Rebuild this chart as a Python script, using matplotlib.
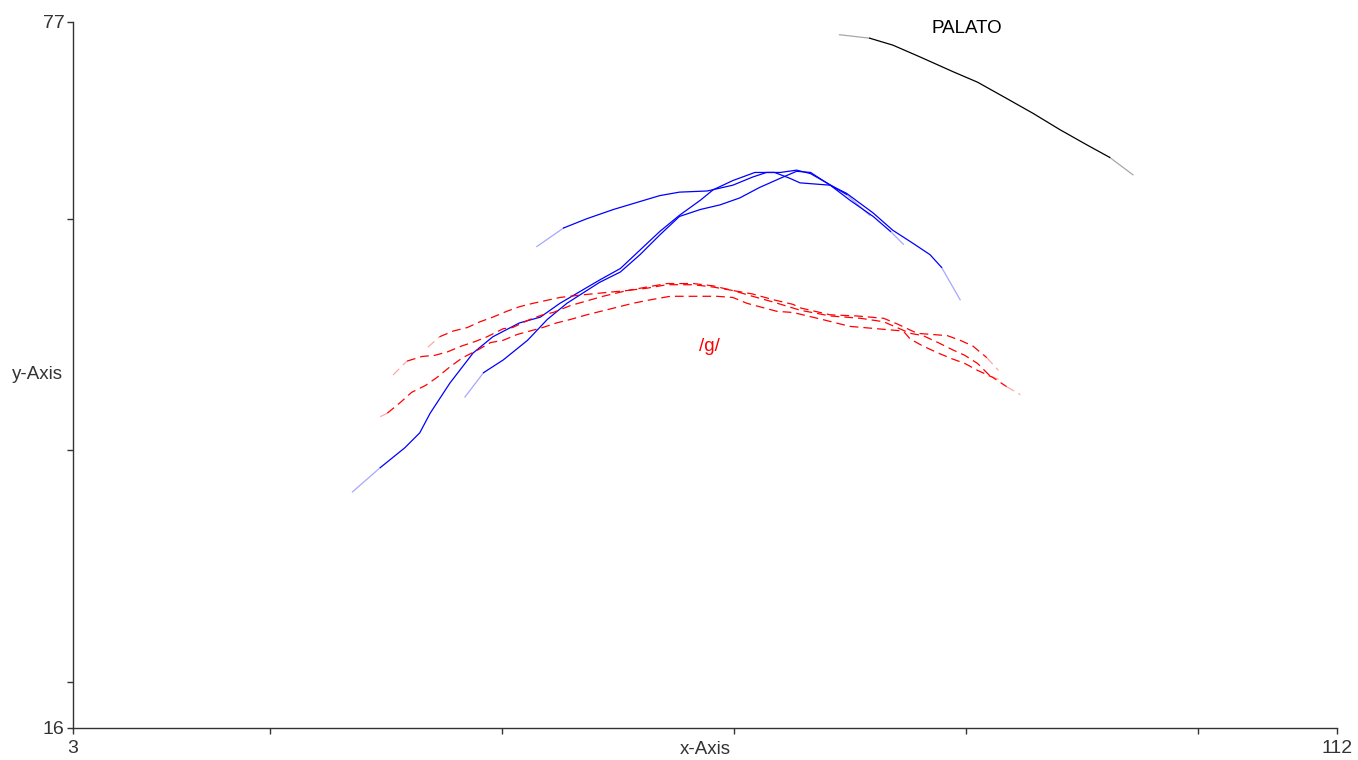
import numpy as np
import matplotlib
matplotlib.use("Agg")
from matplotlib import pyplot as plt

plt.rcParams['font.family'] = ['Liberation Sans', 'DejaVu Sans']

## DATA ##
# blue curves (solid)
blue_a_x = [27.1, 29.5, 31.6, 32.9, 33.8, 35.5, 37.5, 39.2, 41.5, 43.3, 45.0, 46.7, 48.4, 50.2, 51.9, 53.6,
            55.3, 57.1, 58.2, 59.9, 61.8, 63.5, 64.8, 65.7, 68.3, 69.7, 72.0, 73.7, 75.4, 76.9, 77.9, 79.5]
blue_a_y = [36.4, 38.5, 40.2, 41.5, 43.2, 45.8, 48.4, 49.8, 51.0, 51.5, 52.7, 53.7, 54.7, 55.7, 57.3, 58.9,
            60.3, 61.6, 62.5, 63.3, 64.0, 64.0, 63.5, 63.1, 62.9, 62.2, 60.5, 59.0, 57.9, 56.9, 55.8, 53.0]

blue_b_x = [36.8, 38.4, 40.1, 42.2, 43.9, 45.6, 48.4, 50.2, 51.9, 53.6, 55.3, 57.1, 58.8, 60.5, 62.2, 64.0,
            65.4, 66.6, 68.3, 70.0, 72.0, 73.5, 74.6]
blue_b_y = [44.6, 46.7, 47.8, 49.5, 51.3, 52.7, 54.5, 55.4, 56.9, 58.6, 60.2, 60.8, 61.2, 61.8, 62.7, 63.5,
            64.1, 64.0, 62.9, 61.6, 60.2, 58.9, 57.8]

blue_c_x = [43.0, 45.3, 47.3, 49.6, 51.6, 53.6, 55.3, 57.7, 59.9, 61.6, 62.8, 64.0, 65.4, 66.6, 68.0, 69.7, 71.7]
blue_c_y = [57.6, 59.2, 60.0, 60.8, 61.4, 62.0, 62.3, 62.4, 62.9, 63.6, 64.0, 64.0, 64.2, 63.9, 63.1, 62.1, 60.3]

# red curves (dashed)
red_1_x = [33.6, 34.6, 35.8, 37.0, 38.1, 39.2, 40.4, 41.5, 42.7, 45.0, 46.7, 48.7, 50.8, 52.5, 54.2, 56.5,
           58.2, 59.9, 61.6, 63.4, 65.1, 65.7, 68.3, 70.6, 72.9, 74.1, 75.8, 78.4, 79.5, 80.6, 81.8, 82.8]
red_1_y = [48.9, 49.8, 50.3, 50.6, 51.1, 51.5, 52.0, 52.4, 52.7, 53.2, 53.4, 53.6, 53.8, 54.1, 54.4, 54.4,
           54.2, 53.8, 53.5, 53.0, 52.6, 52.3, 51.7, 51.6, 51.4, 50.9, 50.1, 49.9, 49.5, 49.0, 48.0, 46.9]

red_2_x = [30.6, 31.8, 33.1, 34.2, 35.3, 36.5, 37.7, 38.7, 40.1, 40.9, 42.4, 43.5, 44.4, 45.9, 47.3, 48.7,
           50.8, 52.5, 54.2, 56.5, 58.2, 59.9, 61.6, 63.4, 65.7, 68.3, 70.9, 72.9, 75.2, 76.3, 77.6, 78.8,
           79.9, 81.0, 82.1, 82.9]
red_2_y = [46.5, 47.7, 48.1, 48.2, 48.5, 49.0, 49.4, 49.8, 50.5, 50.6, 51.3, 51.7, 51.9, 52.5, 52.9, 53.3,
           53.8, 54.0, 54.3, 54.3, 54.1, 53.8, 53.3, 52.8, 52.1, 51.6, 51.4, 51.1, 50.1, 49.9, 49.3, 48.7,
           48.2, 47.5, 46.4, 46.1]

red_3_x = [29.5, 30.1, 31.2, 32.2, 33.4, 34.4, 35.5, 36.6, 37.8, 39.0, 40.1, 41.3, 42.4, 43.5, 44.7, 45.9,
           47.3, 49.3, 51.3, 52.8, 54.5, 56.5, 58.5, 59.9, 61.1, 62.2, 63.7, 65.1, 67.6, 70.0, 72.3, 74.6,
           75.2, 76.3, 77.6, 78.8, 79.9, 81.0, 82.3, 83.5, 84.7]
red_3_y = [42.9, 43.2, 44.1, 45.0, 45.6, 46.3, 47.2, 48.0, 48.6, 49.3, 49.5, 50.0, 50.3, 50.6, 51.0, 51.3,
           51.7, 52.2, 52.7, 53.0, 53.3, 53.3, 53.3, 53.2, 52.7, 52.4, 52.0, 51.9, 51.3, 50.7, 50.5, 50.3,
           49.6, 49.0, 48.4, 47.9, 47.5, 46.9, 46.3, 45.5, 44.8]

# black curve (PALATO)
black_x = [69.1, 71.7, 73.7, 76.0, 78.9, 81.0, 83.5, 85.8, 88.1, 90.4, 92.4, 94.4]
black_y = [75.9, 75.6, 75.0, 74.0, 72.7, 71.8, 70.4, 69.1, 67.7, 66.4, 65.3, 63.8]

labels = [("PALATO", 80.1, 76.4, 'black'), ("/g/", 57.9, 49.0, 'red')]

x_min, x_max = 3, 112
y_min, y_max = 16, 77
x_ticks = [3, 20, 40, 60, 80, 100, 112]
y_ticks = [16, 20, 40, 60, 77]


def faded_line(ax, xs, ys, **kw):
    # the curves fade out at both ends in the original
    ax.plot(xs[1:-1], ys[1:-1], **kw)
    ax.plot(xs[:2], ys[:2], alpha=0.35, **kw)
    ax.plot(xs[-2:], ys[-2:], alpha=0.35, **kw)


## PLOT ##
fig = plt.figure(figsize=(13.58, 7.6), dpi=100)
ax = fig.add_axes([0.05376, 0.04211, 0.93078, 0.92895])

lw = 0.9
for xs, ys in [(blue_a_x, blue_a_y), (blue_b_x, blue_b_y), (blue_c_x, blue_c_y)]:
    faded_line(ax, xs, ys, color='#0000ff', lw=lw)
for xs, ys in [(red_1_x, red_1_y), (red_2_x, red_2_y), (red_3_x, red_3_y)]:
    faded_line(ax, xs, ys, color='#ff0000', lw=lw, linestyle=(0, (7, 4)))
faded_line(ax, black_x, black_y, color='black', lw=lw)

for txt, tx, ty, col in labels:
    ax.text(tx, ty, txt, color=col, fontsize=13.5, ha='center', va='center')

ax.set_xlim(x_min, x_max)
ax.set_ylim(y_min, y_max)
ax.set_xticks(x_ticks)
ax.set_xticklabels([str(t) if t in (x_min, x_max) else '' for t in x_ticks])
ax.set_yticks(y_ticks)
ax.set_yticklabels([str(t) if t in (y_min, y_max) else '' for t in y_ticks])

for side in ['top', 'right']:
    ax.spines[side].set_visible(False)
for side in ['left', 'bottom']:
    ax.spines[side].set_color('#333333')
    ax.spines[side].set_linewidth(1.0)
ax.tick_params(direction='out', length=4, width=1, colors='#333333', labelsize=14, pad=2)
ax.tick_params(axis='x', pad=5)

ax.set_xlabel('x-Axis', fontsize=13.5, color='#333333')
ax.xaxis.set_label_coords(0.5, -0.018)
ax.xaxis.label.set_va('top')
ax.set_ylabel('y-Axis', fontsize=13.5, color='#333333', rotation=0)
ax.yaxis.set_label_coords(-0.028, 0.5)
ax.yaxis.label.set_ha('center')
ax.yaxis.label.set_va('center')

plt.savefig('out.png', dpi=100)
